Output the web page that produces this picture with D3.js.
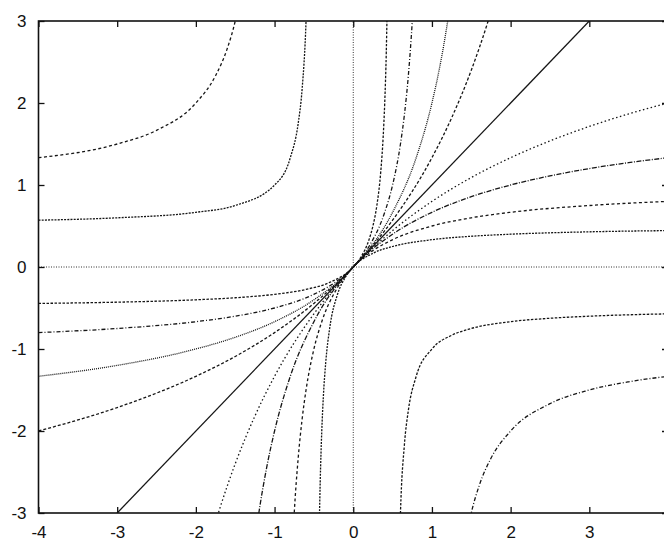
<!DOCTYPE html>
<html>
<head>
<meta charset="utf-8">
<script src="https://cdn.jsdelivr.net/npm/d3@7"></script>
<style>
  body { margin: 0; background: #fff; }
  svg { display: block; }
  .tick text { font-family: "Liberation Sans", Arial, sans-serif; font-size: 17px; fill: #111; }
  .tick line { stroke: #111; stroke-width: 1.3; }
  .curve { fill: none; stroke: #151515; stroke-width: 1.3; }
</style>
</head>
<body>
<div id="chart-area"></div>
<script>
const xTicks = [-4, -3, -2, -1, 0, 1, 2, 3];
const yTicks = [-3, -2, -1, 0, 1, 2, 3];

// solution curves, one array per branch
const cPos2a = [[-4, -0.444], [-3, -0.429], [-2, -0.4], [-1.5, -0.375], [-1, -0.333], [-0.6, -0.273], [-0.3, -0.188], [0, 0], [0.1, 0.125], [0.2, 0.333], [0.25, 0.5], [0.3, 0.75], [0.35, 1.167], [0.38, 1.583], [0.4, 2], [0.42, 2.625], [0.44, 3.667]];
const cPos2b = [[0.56, -4.667], [0.6, -3], [0.65, -2.167], [0.7, -1.75], [0.8, -1.333], [1, -1], [1.25, -0.833], [1.5, -0.75], [2, -0.667], [2.5, -0.625], [3, -0.6], [4, -0.571]];
const cPos1a = [[-4, -0.8], [-3, -0.75], [-2, -0.667], [-1.5, -0.6], [-1, -0.5], [-0.5, -0.333], [-0.25, -0.2], [0, 0], [0.2, 0.25], [0.4, 0.667], [0.5, 1], [0.6, 1.5], [0.65, 1.857], [0.7, 2.333], [0.75, 3], [0.78, 3.545]];
const cPos1b = [[1.4, -3.5], [1.5, -3], [1.6, -2.667], [1.75, -2.333], [2, -2], [2.5, -1.667], [3, -1.5], [3.5, -1.4], [4, -1.333]];
const cPosHalf = [[-4, -1.333], [-3, -1.2], [-2, -1], [-1.5, -0.857], [-1, -0.667], [-0.5, -0.4], [0, 0], [0.5, 0.667], [0.8, 1.333], [1, 2], [1.1, 2.444], [1.2, 3], [1.3, 3.714]];
const cPosQuarter = [[-4, -2], [-3, -1.714], [-2, -1.333], [-1.5, -1.091], [-1, -0.8], [-0.5, -0.444], [0, 0], [0.5, 0.571], [1, 1.333], [1.25, 1.818], [1.5, 2.4], [1.6, 2.667], [1.71, 2.987], [1.8, 3.273]];
const cZero = [[-4, -4], [4, 4]];
const cNegQuarter = [[-1.8, -3.273], [-1.7, -2.957], [-1.6, -2.667], [-1.5, -2.4], [-1.25, -1.818], [-1, -1.333], [-0.5, -0.571], [0, 0], [0.5, 0.444], [1, 0.8], [1.5, 1.091], [2, 1.333], [2.5, 1.538], [3, 1.714], [3.5, 1.867], [4, 2]];
const cNegHalf = [[-1.25, -3.333], [-1.2, -3], [-1.1, -2.444], [-1, -2], [-0.8, -1.333], [-0.5, -0.667], [0, 0], [0.5, 0.4], [1, 0.667], [1.5, 0.857], [2, 1], [2.5, 1.111], [3, 1.2], [3.5, 1.273], [4, 1.333]];
const cNeg1a = [[-0.8, -4], [-0.75, -3], [-0.7, -2.333], [-0.65, -1.857], [-0.6, -1.5], [-0.5, -1], [-0.4, -0.667], [-0.2, -0.25], [0, 0], [0.25, 0.2], [0.5, 0.333], [1, 0.5], [1.5, 0.6], [2, 0.667], [3, 0.75], [4, 0.8]];
const cNeg1b = [[-4, 1.333], [-3, 1.5], [-2.5, 1.667], [-2, 2], [-1.75, 2.333], [-1.6, 2.667], [-1.5, 3], [-1.4, 3.5]];
const cNeg2a = [[-0.45, -4.5], [-0.43, -3.07], [-0.42, -2.625], [-0.4, -2], [-0.38, -1.583], [-0.35, -1.167], [-0.3, -0.75], [-0.2, -0.333], [-0.1, -0.125], [0, 0], [0.25, 0.167], [0.5, 0.25], [1, 0.333], [1.5, 0.375], [2, 0.4], [3, 0.429], [4, 0.444]];
const cNeg2b = [[-4, 0.571], [-3, 0.6], [-2, 0.667], [-1.5, 0.75], [-1, 1], [-0.8, 1.333], [-0.7, 1.75], [-0.65, 2.167], [-0.6, 3], [-0.58, 3.625]];
const xAxisLine = [[0, -3], [0, 3]];
const yAxisLine = [[-4, 0], [4, 0]];

const curves = [
  { pts: cPos2a, dash: "2.5,1.5" },
  { pts: cPos2b, dash: "2.5,1.5" },
  { pts: cPos1a, dash: "4,2,1,2" },
  { pts: cPos1b, dash: "4,2,1,2" },
  { pts: cPosHalf, dash: "1,1" },
  { pts: cPosQuarter, dash: "3,2" },
  { pts: cZero, dash: null },
  { pts: cNegQuarter, dash: "1.5,2.5" },
  { pts: cNegHalf, dash: "5,1.5,1,1.5" },
  { pts: cNeg1a, dash: "3,2.5" },
  { pts: cNeg1b, dash: "3,2.5" },
  { pts: cNeg2a, dash: "2,1.2" },
  { pts: cNeg2b, dash: "2,1.2" }
];

const frame = { left: 38.5, right: 668, top: 21, bottom: 513 };
const fmt = d => String(d);

const svg = d3.select("#chart-area").append("svg")
  .attr("width", 664)
  .attr("height", 542);

const x = d3.scaleLinear().domain([-4, 4]).range([frame.left, frame.right]);
const y = d3.scaleLinear().domain([-3, 3]).range([frame.bottom, frame.top]);

svg.append("defs").append("clipPath").attr("id", "plot")
  .append("rect")
  .attr("x", frame.left).attr("y", frame.top)
  .attr("width", frame.right - frame.left).attr("height", frame.bottom - frame.top);

const line = d3.line()
  .x(d => x(d[0]))
  .y(d => y(d[1]))
  .curve(d3.curveMonotoneX);

const plot = svg.append("g").attr("clip-path", "url(#plot)");

// zero lines
[xAxisLine, yAxisLine].forEach(pts => {
  plot.append("path")
    .attr("d", d3.line().x(d => x(d[0])).y(d => y(d[1]))(pts))
    .attr("fill", "none")
    .attr("stroke", "#333")
    .attr("stroke-width", 1)
    .attr("stroke-dasharray", "1,1.5");
});

plot.selectAll("path.curve")
  .data(curves)
  .join("path")
  .attr("class", "curve")
  .attr("d", d => line(d.pts))
  .attr("stroke-dasharray", d => d.dash);

// axes, ticks pointing inward on all four sides
svg.append("g")
  .attr("transform", `translate(0,${frame.bottom})`)
  .call(d3.axisBottom(x).tickValues(xTicks).tickFormat(fmt).tickSizeInner(-6).tickSizeOuter(0).tickPadding(13))
  .call(g => g.select(".domain").remove());

svg.append("g")
  .attr("transform", `translate(${frame.left},0)`)
  .call(d3.axisLeft(y).tickValues(yTicks).tickFormat(fmt).tickSizeInner(-6).tickSizeOuter(0).tickPadding(12))
  .call(g => g.select(".domain").remove());

svg.append("g")
  .attr("transform", `translate(0,${frame.top})`)
  .call(d3.axisTop(x).tickValues(xTicks).tickSizeInner(-6).tickSizeOuter(0).tickFormat(""))
  .call(g => g.select(".domain").remove());

svg.append("g")
  .attr("transform", `translate(${frame.right},0)`)
  .call(d3.axisRight(y).tickValues(yTicks).tickSizeInner(-6).tickSizeOuter(0).tickFormat(""))
  .call(g => g.select(".domain").remove());

svg.append("rect")
  .attr("x", frame.left).attr("y", frame.top)
  .attr("width", frame.right - frame.left).attr("height", frame.bottom - frame.top)
  .attr("fill", "none")
  .attr("stroke", "#111")
  .attr("stroke-width", 1.6);
</script>
</body>
</html>
